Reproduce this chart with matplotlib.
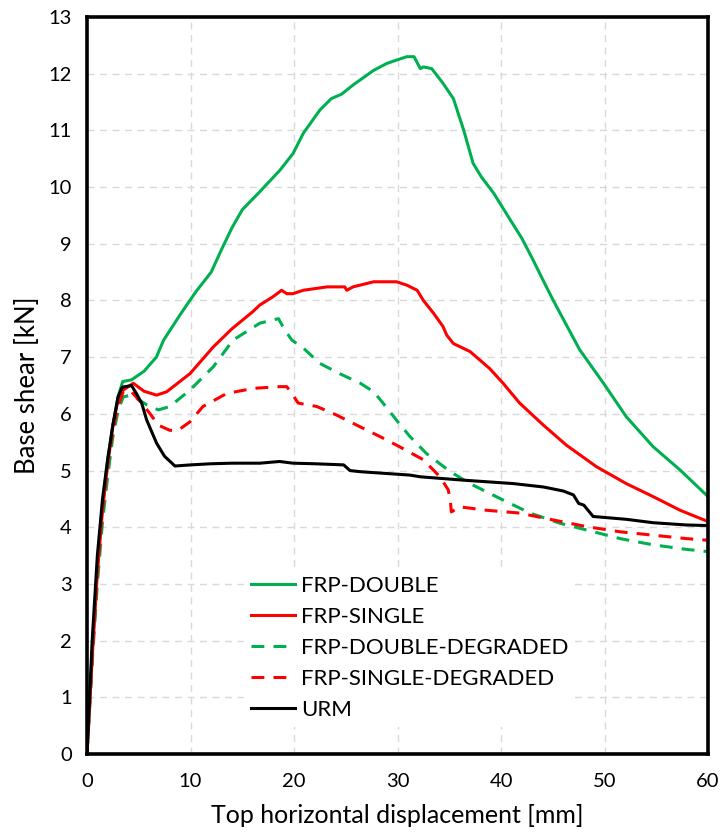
import matplotlib.pyplot as plt

plt.rcParams['font.family'] = ['Lato', 'DejaVu Sans']

# FRP-DOUBLE (solid green)
dbl_x = [0, 0.5, 1.0, 1.5, 2.0, 2.5, 3.0, 3.45, 4.3, 5.5, 6.7, 7.4, 9.0, 10.5, 12.0, 13.0,
         14.0, 15.0, 16.7, 18.65, 19.9, 20.9, 22.5, 23.6, 24.6, 25.7, 27.7, 28.95, 29.9,
         30.9, 31.6, 32.2, 32.5, 33.3, 34.4, 35.4, 36.4, 37.3, 38.1, 39.3, 40.9, 42.0,
         43.0, 44.0, 45.05, 47.6, 49.9, 52.1, 54.7, 57.3, 60.0]
dbl_y = [0, 1.8, 3.3, 4.4, 5.2, 5.8, 6.3, 6.57, 6.6, 6.75, 7.0, 7.3, 7.75, 8.15, 8.5, 8.9,
         9.28, 9.6, 9.92, 10.3, 10.59, 10.95, 11.36, 11.56, 11.64, 11.8, 12.06, 12.18,
         12.24, 12.3, 12.3, 12.09, 12.12, 12.09, 11.83, 11.56, 11.0, 10.42, 10.18, 9.89,
         9.42, 9.1, 8.75, 8.38, 8.0, 7.13, 6.54, 5.95, 5.42, 5.01, 4.54]

# FRP-SINGLE (solid red)
sgl_x = [0, 0.5, 1.0, 1.5, 2.0, 2.5, 3.0, 3.5, 4.47, 5.5, 6.73, 7.7, 9.95, 12.2, 14.0,
         16.0, 16.7, 18.0, 18.8, 19.3, 19.9, 20.9, 23.2, 24.9, 25.1, 25.7, 27.7, 29.9,
         30.9, 31.9, 32.5, 33.5, 34.4, 34.75, 35.4, 37.0, 38.9, 40.2, 41.8, 44.1, 46.3,
         49.2, 52.1, 54.7, 57.3, 60.0]
sgl_y = [0, 1.7, 3.2, 4.3, 5.1, 5.8, 6.25, 6.42, 6.54, 6.4, 6.33, 6.39, 6.71, 7.18, 7.5,
         7.8, 7.92, 8.07, 8.18, 8.12, 8.12, 8.18, 8.24, 8.24, 8.18, 8.24, 8.33, 8.33,
         8.27, 8.18, 8.0, 7.77, 7.54, 7.39, 7.24, 7.1, 6.8, 6.54, 6.19, 5.8, 5.45, 5.07,
         4.77, 4.54, 4.3, 4.1]

# FRP-DOUBLE-DEGRADED (dashed green)
dbd_x = [0, 0.5, 1.0, 1.5, 2.0, 2.5, 3.0, 3.5, 4.3, 5.77, 6.9, 8.0, 9.95, 12.2, 14.1,
         16.7, 18.5, 19.1, 19.8, 20.9, 22.5, 24.4, 26.4, 27.7, 28.6, 29.9, 31.2, 32.8,
         35.1, 37.0, 40.2, 42.8, 45.7, 48.3, 51.5, 54.7, 57.9, 60.0]
dbd_y = [0, 1.6, 3.0, 4.1, 4.9, 5.6, 6.05, 6.3, 6.33, 6.16, 6.07, 6.13, 6.42, 6.83, 7.3,
         7.6, 7.68, 7.48, 7.3, 7.16, 6.89, 6.71, 6.54, 6.39, 6.19, 5.89, 5.6, 5.3, 4.98,
         4.77, 4.48, 4.25, 4.07, 3.95, 3.8, 3.69, 3.61, 3.57]

# FRP-SINGLE-DEGRADED (dashed red)
sgd_x = [0, 0.5, 1.0, 1.5, 2.0, 2.5, 3.0, 3.5, 4.3, 5.28, 6.1, 6.9, 8.0, 8.8, 9.95, 11.2,
         13.5, 16.1, 18.6, 19.3, 19.9, 20.4, 22.2, 24.1, 26.4, 28.3, 30.2, 32.5, 34.1,
         34.9, 35.1, 35.2, 36.0, 38.6, 41.8, 45.0, 48.3, 51.5, 54.7, 57.9, 60.0]
sgd_y = [0, 1.7, 3.2, 4.3, 5.1, 5.7, 6.15, 6.39, 6.39, 6.19, 6.0, 5.8, 5.71, 5.71, 5.86,
         6.13, 6.36, 6.45, 6.48, 6.48, 6.33, 6.19, 6.13, 5.98, 5.77, 5.6, 5.42, 5.19,
         4.89, 4.66, 4.48, 4.27, 4.36, 4.3, 4.25, 4.13, 4.01, 3.92, 3.86, 3.8, 3.77]

# URM (solid black)
urm_x = [0, 0.5, 1.0, 1.5, 2.0, 2.5, 3.0, 3.4, 4.3, 4.8, 5.28, 5.77, 6.73, 7.5, 8.5, 10.0,
         12.0, 14.0, 16.7, 18.6, 19.9, 22.0, 24.8, 25.4, 26.4, 31.2, 32.2, 36.4, 41.2,
         44.1, 46.0, 47.0, 47.5, 48.0, 48.9, 52.1, 54.7, 57.9, 60.0]
urm_y = [0, 2.0, 3.5, 4.5, 5.2, 5.8, 6.3, 6.47, 6.5, 6.35, 6.19, 5.89, 5.48, 5.25, 5.08,
         5.1, 5.12, 5.13, 5.13, 5.16, 5.13, 5.12, 5.1, 5.0, 4.98, 4.92, 4.89, 4.83, 4.77,
         4.71, 4.64, 4.57, 4.42, 4.39, 4.19, 4.14, 4.08, 4.04, 4.03]

green = '#00B050'
red = '#FF0000'
dash = (0, (4.2, 3.0))

fig = plt.figure(figsize=(7.25, 8.34), dpi=100)
ax = fig.add_axes([0.12, 0.0959, 0.8566, 0.8837])

ax.plot(dbl_x, dbl_y, color=green, lw=2.2, label='FRP-DOUBLE')
ax.plot(sgl_x, sgl_y, color=red, lw=2.2, label='FRP-SINGLE')
ax.plot(dbd_x, dbd_y, color=green, lw=2.2, ls=dash, label='FRP-DOUBLE-DEGRADED')
ax.plot(sgd_x, sgd_y, color=red, lw=2.2, ls=dash, label='FRP-SINGLE-DEGRADED')
ax.plot(urm_x, urm_y, color='black', lw=2.2, label='URM')

ax.set_xlim(0, 60)
ax.set_ylim(0, 13)
ax.set_xticks(range(0, 61, 10))
ax.set_yticks(range(0, 14))
ax.grid(True, color='#D9D9D9', ls=(0, (5, 4)), lw=1)
ax.set_axisbelow(True)
ax.tick_params(length=0, labelsize=14.5)
ax.tick_params(axis='x', pad=14)
ax.tick_params(axis='y', pad=11)
for s in ax.spines.values():
    s.set_linewidth(2.6)
    s.set_color('black')

ax.set_xlabel('Top horizontal displacement [mm]', fontsize=18, labelpad=10)
ax.set_ylabel('Base shear [kN]', fontsize=18.5, labelpad=6)

leg = ax.legend(loc='upper left', bbox_to_anchor=(0.235, 0.266), fontsize=16,
                frameon=True, framealpha=1, edgecolor='none', facecolor='white',
                handlelength=2.0, handletextpad=0.25, labelspacing=0.5,
                borderpad=0.3, fancybox=False)

fig.savefig('out.png', dpi=100)
